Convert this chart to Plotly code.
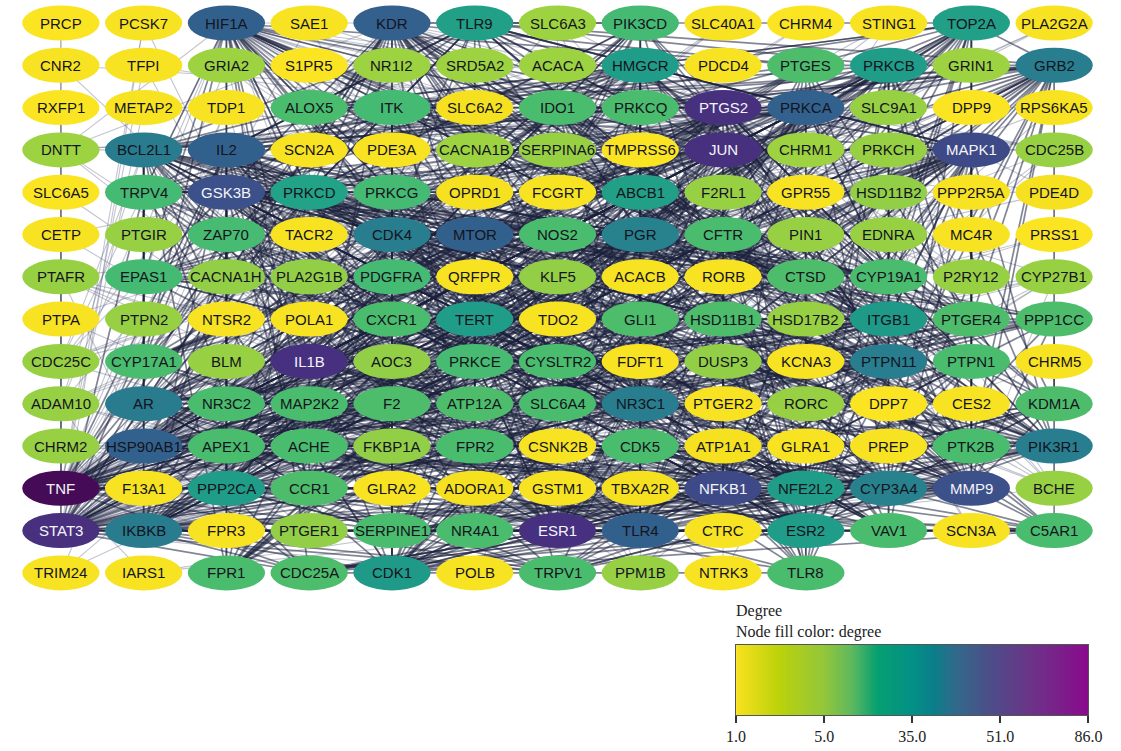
import numpy as np
import plotly.graph_objects as go
from plotly.colors import sample_colorscale

# ---------------- data ----------------
row01 = ["PRCP", "PCSK7", "HIF1A", "SAE1", "KDR", "TLR9", "SLC6A3", "PIK3CD", "SLC40A1", "CHRM4", "STING1", "TOP2A", "PLA2G2A"]
row02 = ["CNR2", "TFPI", "GRIA2", "S1PR5", "NR1I2", "SRD5A2", "ACACA", "HMGCR", "PDCD4", "PTGES", "PRKCB", "GRIN1", "GRB2"]
row03 = ["RXFP1", "METAP2", "TDP1", "ALOX5", "ITK", "SLC6A2", "IDO1", "PRKCQ", "PTGS2", "PRKCA", "SLC9A1", "DPP9", "RPS6KA5"]
row04 = ["DNTT", "BCL2L1", "IL2", "SCN2A", "PDE3A", "CACNA1B", "SERPINA6", "TMPRSS6", "JUN", "CHRM1", "PRKCH", "MAPK1", "CDC25B"]
row05 = ["SLC6A5", "TRPV4", "GSK3B", "PRKCD", "PRKCG", "OPRD1", "FCGRT", "ABCB1", "F2RL1", "GPR55", "HSD11B2", "PPP2R5A", "PDE4D"]
row06 = ["CETP", "PTGIR", "ZAP70", "TACR2", "CDK4", "MTOR", "NOS2", "PGR", "CFTR", "PIN1", "EDNRA", "MC4R", "PRSS1"]
row07 = ["PTAFR", "EPAS1", "CACNA1H", "PLA2G1B", "PDGFRA", "QRFPR", "KLF5", "ACACB", "RORB", "CTSD", "CYP19A1", "P2RY12", "CYP27B1"]
row08 = ["PTPA", "PTPN2", "NTSR2", "POLA1", "CXCR1", "TERT", "TDO2", "GLI1", "HSD11B1", "HSD17B2", "ITGB1", "PTGER4", "PPP1CC"]
row09 = ["CDC25C", "CYP17A1", "BLM", "IL1B", "AOC3", "PRKCE", "CYSLTR2", "FDFT1", "DUSP3", "KCNA3", "PTPN11", "PTPN1", "CHRM5"]
row10 = ["ADAM10", "AR", "NR3C2", "MAP2K2", "F2", "ATP12A", "SLC6A4", "NR3C1", "PTGER2", "RORC", "DPP7", "CES2", "KDM1A"]
row11 = ["CHRM2", "HSP90AB1", "APEX1", "ACHE", "FKBP1A", "FPR2", "CSNK2B", "CDK5", "ATP1A1", "GLRA1", "PREP", "PTK2B", "PIK3R1"]
row12 = ["TNF", "F13A1", "PPP2CA", "CCR1", "GLRA2", "ADORA1", "GSTM1", "TBXA2R", "NFKB1", "NFE2L2", "CYP3A4", "MMP9", "BCHE"]
row13 = ["STAT3", "IKBKB", "FPR3", "PTGER1", "SERPINE1", "NR4A1", "ESR1", "TLR4", "CTRC", "ESR2", "VAV1", "SCN3A", "C5AR1"]
row14 = ["TRIM24", "IARS1", "FPR1", "CDC25A", "CDK1", "POLB", "TRPV1", "PPM1B", "NTRK3", "TLR8"]

deg01 = [2, 3, 50, 3, 52, 28, 8, 18, 3, 2, 3, 28, 3]
deg02 = [3, 3, 8, 2, 8, 8, 8, 30, 3, 15, 30, 8, 38]
deg03 = [2, 3, 3, 16, 18, 4, 16, 16, 68, 48, 9, 2, 3]
deg04 = [8, 40, 50, 3, 3, 8, 9, 2, 70, 8, 9, 58, 9]
deg05 = [2, 18, 57, 27, 18, 4, 3, 28, 9, 3, 10, 3, 4]
deg06 = [3, 9, 17, 3, 38, 50, 16, 36, 16, 9, 9, 3, 2]
deg07 = [9, 18, 10, 10, 18, 3, 10, 3, 3, 15, 16, 9, 9]
deg08 = [3, 9, 3, 3, 16, 30, 3, 15, 15, 9, 32, 15, 15]
deg09 = [9, 16, 9, 74, 10, 17, 16, 3, 10, 3, 38, 16, 3]
deg10 = [9, 40, 16, 16, 15, 15, 16, 38, 3, 9, 2, 3, 15]
deg11 = [9, 48, 16, 16, 10, 16, 3, 16, 4, 3, 3, 16, 38]
deg12 = [86, 3, 30, 15, 3, 4, 3, 4, 58, 30, 36, 57, 9]
deg13 = [76, 40, 3, 10, 16, 16, 72, 50, 3, 30, 16, 3, 16]
deg14 = [3, 3, 16, 15, 32, 3, 16, 9, 3, 16]

legend_ticks = ["1.0", "5.0", "35.0", "51.0", "86.0"]

# ---------------- styles ----------------
NODE_STOPS = [(1, "#fde725"), (4, "#f6e120"), (6, "#a8d43a"), (10, "#92cf47"),
              (13, "#52c068"), (20, "#3fb777"), (26, "#22a386"), (32, "#1f9a89"),
              (35, "#26848e"), (42, "#2a778e"), (46, "#32618d"), (54, "#33608d"),
              (56, "#3a578c"), (62, "#46307e"), (80, "#48307f"), (86, "#450b57")]
node_scale = [[(d - 1) / 85.0, c] for d, c in NODE_STOPS]

LEGEND_SCALE = [[0.0, "#f9e11e"], [0.12, "#bcd20a"], [0.25, "#93c63a"],
                [0.33, "#5db85e"], [0.40, "#06a070"], [0.50, "#039086"],
                [0.56, "#0a7f8a"], [0.63, "#33688a"], [0.72, "#4c4e88"],
                [0.84, "#6c3388"], [1.0, "#8a0a8c"]]

rows = [row01, row02, row03, row04, row05, row06, row07, row08, row09, row10, row11, row12, row13, row14]
degs = [deg01, deg02, deg03, deg04, deg05, deg06, deg07, deg08, deg09, deg10, deg11, deg12, deg13, deg14]
names = [n for r in rows for n in r]
deg = [d for r in degs for d in r]

NCOL = 13
pos = {n: (i % NCOL, i // NCOL) for i, n in enumerate(names)}
dmap = dict(zip(names, deg))


# realise the degree sequence as a graph (Havel-Hakimi, smallest node first)
def realize(names, deg):
    rem = dict(zip(names, deg))
    idx = {n: i for i, n in enumerate(names)}
    adj = {n: set() for n in names}
    edges = []
    while True:
        active = [n for n in names if rem[n] > 0]
        if len(active) < 2:
            break
        v = min(active, key=lambda n: (rem[n], idx[n]))
        cands = sorted([u for u in active if u != v and u not in adj[v]],
                       key=lambda u: (-rem[u], idx[u]))
        for u in cands[:rem[v]]:
            edges.append((v, u))
            adj[v].add(u)
            adj[u].add(v)
            rem[u] -= 1
        rem[v] = 0
    return edges


edges = realize(names, deg)

fig = go.Figure()

strong_x, strong_y, weak_x, weak_y = [], [], [], []
for a, b in edges:
    (xa, ya), (xb, yb) = pos[a], pos[b]
    if min(dmap[a], dmap[b]) >= 13:
        strong_x += [xa, xb, None]
        strong_y += [ya, yb, None]
    else:
        weak_x += [xa, xb, None]
        weak_y += [ya, yb, None]

fig.add_trace(go.Scatter(x=weak_x, y=weak_y, mode="lines",
                         line=dict(color="rgba(95,100,130,0.38)", width=1.1),
                         hoverinfo="skip"))
fig.add_trace(go.Scatter(x=strong_x, y=strong_y, mode="lines",
                         line=dict(color="rgba(28,32,60,0.55)", width=1.7),
                         hoverinfo="skip"))

colors = sample_colorscale(node_scale, [(d - 1) / 85.0 for d in deg])
RX, RY = 0.467, 0.414
shapes = []
annotations = []
for n, d, c in zip(names, deg, colors):
    x, y = pos[n]
    shapes.append(dict(type="circle", xref="x", yref="y", x0=x - RX, x1=x + RX,
                       y0=y - RY, y1=y + RY, fillcolor=c, line=dict(width=0),
                       layer="above"))
    annotations.append(dict(x=x, y=y, xref="x", yref="y", text=n, showarrow=False,
                            font=dict(family="Liberation Sans, Arial, sans-serif", size=15,
                                      color="#f4f4f8" if d >= 55 else "#141420")))

# legend gradient
grad = np.linspace(0, 1, 300)
fig.add_trace(go.Heatmap(z=[grad], x=grad, y=[0], colorscale=LEGEND_SCALE, zmin=0, zmax=1,
                         showscale=False, xaxis="x2", yaxis="y2", hoverinfo="skip"))

serif = "Liberation Serif, Times New Roman, serif"
annotations.append(dict(x=740 / 1121, y=1 - 611 / 751, xref="paper", yref="paper",
                        text="Degree", showarrow=False, xanchor="left", yanchor="middle",
                        font=dict(family=serif, size=16, color="#222")))
annotations.append(dict(x=740 / 1121, y=1 - 632 / 751, xref="paper", yref="paper",
                        text="Node fill color: degree", showarrow=False, xanchor="left",
                        yanchor="middle", font=dict(family=serif, size=16, color="#222")))

fig.update_layout(
    width=1121, height=751, autosize=False, margin=dict(l=0, r=0, t=0, b=0, pad=0),
    paper_bgcolor="white", plot_bgcolor="white", showlegend=False,
    shapes=shapes, annotations=annotations,
    xaxis=dict(range=[-52 / 84.58, (1121 - 52) / 84.58], visible=False, domain=[0, 1]),
    yaxis=dict(range=[(751 - 23) / 42.3, -23 / 42.3], visible=False, domain=[0, 1]),
    xaxis2=dict(domain=[742 / 1121, 1102 / 1121], anchor="y2", range=[0, 1],
                tickvals=[0, 0.25, 0.5, 0.75, 1], ticktext=legend_ticks,
                ticks="outside", ticklen=7, tickwidth=2, tickcolor="#333",
                showline=True, mirror=True, linecolor="#555", linewidth=1,
                showgrid=False, zeroline=False,
                tickfont=dict(family=serif, size=16, color="#222")),
    yaxis2=dict(domain=[1 - 715 / 751, 1 - 645 / 751], anchor="x2", range=[-0.5, 0.5],
                showticklabels=False, showline=True, mirror=True, linecolor="#555",
                linewidth=1, showgrid=False, zeroline=False, ticks=""),
)

post = ("document.body.style.margin='0px';document.body.style.overflow='hidden';"
        "var gd=document.getElementById('{plot_id}');"
        "gd.style.position='absolute';gd.style.left='0px';gd.style.top='0px';")
fig.write_html("out.html", config={"displayModeBar": False, "responsive": False},
               post_script=post)
